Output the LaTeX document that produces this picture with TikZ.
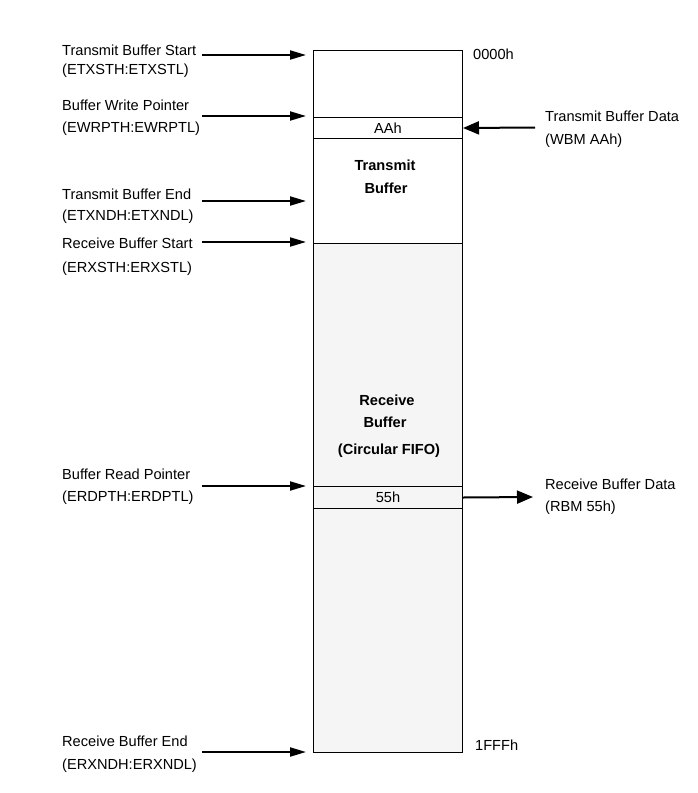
\documentclass[tikz,border=0pt]{standalone}
\usepackage{fontspec}
\setmainfont{Liberation Sans}
\usetikzlibrary{arrows.meta}
\definecolor{rxgray}{HTML}{F5F5F5}
\newcommand{\lab}{\fontsize{14.6}{17}\selectfont}
\newcommand{\bld}{\fontsize{14.6}{17}\selectfont\bfseries}
\tikzset{
  lbl/.style={anchor=base west, inner sep=0pt, font=\lab},
  inlbl/.style={inner sep=0pt, font=\bld},
  arr/.style={line width=2pt, -{Triangle[length=16pt,width=9pt]}},
  rarr/.style={line width=2pt, -{Triangle[length=16pt,width=13pt]}},
  region/.style={draw, line width=1pt, anchor=north west, inner sep=0pt},
}
\begin{document}
\begin{tikzpicture}[x=1pt,y=-1pt]
\useasboundingbox (0,0) rectangle (697,793);
% memory regions
\node[region, minimum width=149pt, minimum height=193pt] (tx) at (313,50) {};
\node[region, fill=rxgray, minimum width=149pt, minimum height=509pt] (rx) at (313,243) {};
\node[region, minimum width=149pt, minimum height=21pt, font=\lab] (aah) at (313,117) {AAh};
\node[region, fill=rxgray, minimum width=149pt, minimum height=22pt, font=\lab] (c55) at (313,486) {55h};
% inner labels
\node[inlbl] (t1) at (385,165) {Transmit};
\node[inlbl] (t2) at (386,188) {Buffer};
\node[inlbl] (r1) at (387,400) {Receive};
\node[inlbl] (r2) at (385,422) {Buffer};
\node[inlbl] (r3) at (389,451) {(Circular FIFO)};
% addresses
\node[lbl] (a0) at (473,59) {0000h};
\node[lbl] (a1) at (475,750) {1FFFh};
% left labels
\node[lbl] (l1a) at (62,55) {Transmit Buffer Start};
\node[lbl] (l1b) at (62,74) {(ETXSTH:ETXSTL)};
\node[lbl] (l2a) at (62,110) {Buffer Write Pointer};
\node[lbl] (l2b) at (62,132) {(EWRPTH:EWRPTL)};
\node[lbl] (l3a) at (62,199) {Transmit Buffer End};
\node[lbl] (l3b) at (62,220) {(ETXNDH:ETXNDL)};
\node[lbl] (l4a) at (62,248) {Receive Buffer Start};
\node[lbl] (l4b) at (62,272) {(ERXSTH:ERXSTL)};
\node[lbl] (l5a) at (62,479) {Buffer Read Pointer};
\node[lbl] (l5b) at (62,501) {(ERDPTH:ERDPTL)};
\node[lbl] (l6a) at (62,746) {Receive Buffer End};
\node[lbl] (l6b) at (62,769) {(ERXNDH:ERXNDL)};
% right labels
\node[lbl] (rt1) at (545,121) {Transmit Buffer Data};
\node[lbl] (rt2) at (545,144) {(WBM AAh)};
\node[lbl] (rr1) at (545,489) {Receive Buffer Data};
\node[lbl] (rr2) at (545,511) {(RBM 55h)};
% arrow start coordinates
\coordinate (s1) at (202,55);
\coordinate (s2) at (202,116);
\coordinate (s3) at (202,201);
\coordinate (s4) at (202,242);
\coordinate (s5) at (202,486);
\coordinate (s6) at (202,752);
\coordinate (s7) at (535,127.5);
\coordinate (s8) at (533,497);
% arrows
\draw[arr, shorten >=7pt] (s1) -- (s1 -| tx.west);
\draw[arr, shorten >=7pt] (s2) -- (s2 -| tx.west);
\draw[arr, shorten >=7pt] (s3) -- (s3 -| tx.west);
\draw[arr, shorten >=7pt] (s4) -- (s4 -| tx.west);
\draw[arr, shorten >=7pt] (s5) -- (s5 -| rx.west);
\draw[arr, shorten >=7pt] (s6) -- (s6 -| rx.west);
\draw[rarr] (s7) -- (aah.east);
\draw[rarr] (c55.east) -- (s8);
\end{tikzpicture}
\end{document}
